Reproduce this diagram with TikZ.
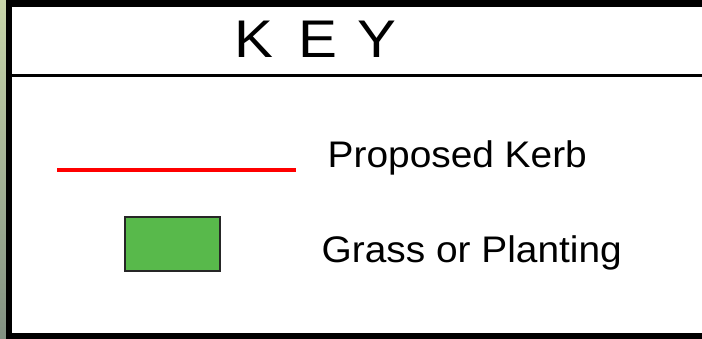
\documentclass[tikz,border=0pt]{standalone}
\usepackage{fontspec}
\setmainfont{Liberation Sans}
\definecolor{grassgreen}{RGB}{88,185,75}
\definecolor{kerbred}{RGB}{255,0,0}
\definecolor{stripA}{RGB}{200,214,170}
\definecolor{stripB}{RGB}{130,145,130}
\begin{document}
\begin{tikzpicture}[x=1pt,y=-1pt,
  frame/.style={draw=black,line width=6.5pt},
  divider/.style={draw=black,line width=3.2pt},
  kerb/.style={draw=kerbred,line width=4.5pt},
  grassbox/.style={draw=black!85,fill=grassgreen,line width=1.2pt},
  label/.style={inner sep=0pt,anchor=base west,font=\fontsize{37}{42}\selectfont},
  title/.style={inner sep=0pt,anchor=base west,font=\fontsize{53}{60}\selectfont}]
\useasboundingbox (0,0) rectangle (702,339);
\clip (0,0) rectangle (702,339);
\fill[white] (0,0) rectangle (702,339);
\shade[top color=stripA,bottom color=stripB] (0,0) rectangle (7,339);
\draw[frame] (9,3.3) rectangle (720,336.5);
\coordinate (dl) at (12,75.5);
\coordinate (dr) at (702,75.5);
\draw[divider] (dl) -- (dr);
\node[title] (key) at (234.5,58) {\scalebox{1.1}[1]{K\hspace{22.5pt}E\hspace{18.8pt}Y}};
\coordinate (kl) at (57,170);
\coordinate (kr) at (296,170);
\draw[kerb] (kl) -- (kr);
\node[label] (kerbtxt) at (327.5,167.5) {\scalebox{1.05}[1]{Proposed Kerb}};
\node[grassbox,minimum width=95pt,minimum height=54pt,inner sep=0pt] (grass) at (172.5,244) {};
\node[label] (grasstxt) at (321.5,263) {\scalebox{1.05}[1]{Grass or Planting}};
\end{tikzpicture}
\end{document}
